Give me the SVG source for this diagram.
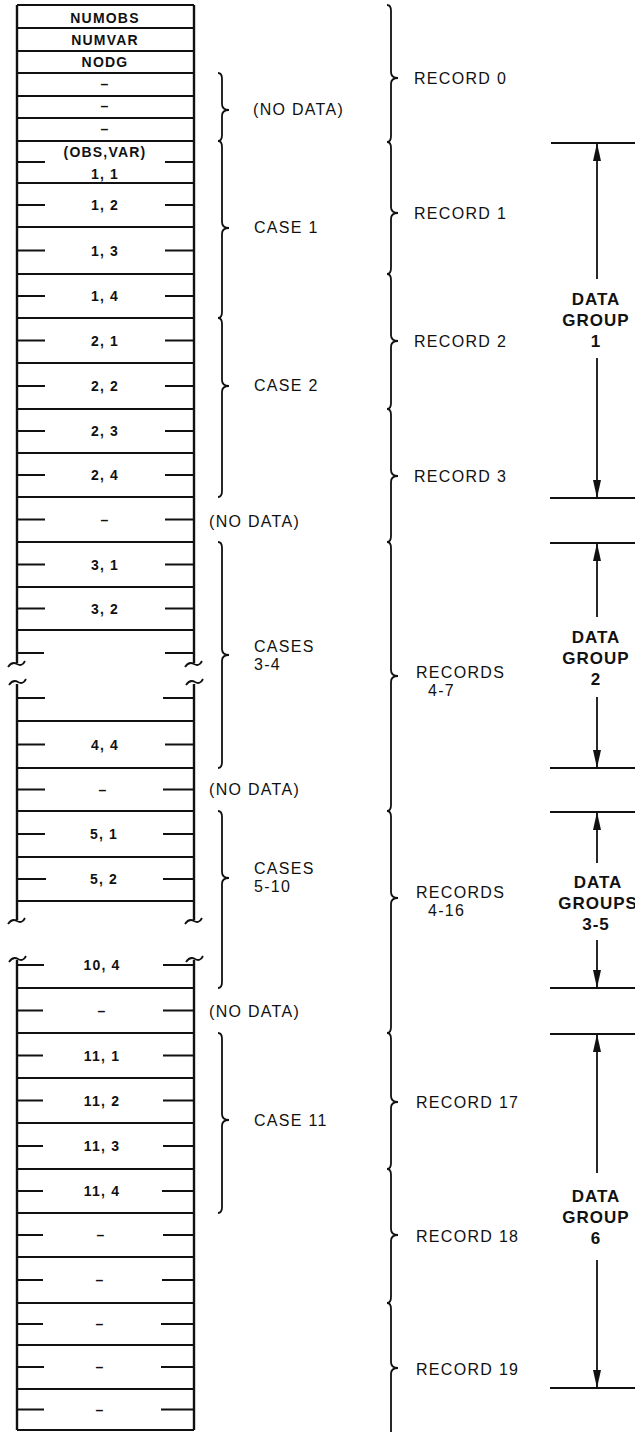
<svg xmlns="http://www.w3.org/2000/svg" width="635" height="1432" viewBox="0 0 635 1432">
<style>
.ln{stroke:#111;stroke-width:2;fill:none}
.vb{stroke:#111;stroke-width:2.4;fill:none}
.br{stroke:#111;stroke-width:1.8;fill:none}
.cv{font-family:'Liberation Sans',Arial,sans-serif;font-size:14px;font-weight:bold;letter-spacing:1.2px;text-anchor:middle;fill:#111}
.lb{font-family:'Liberation Sans',Arial,sans-serif;font-size:16px;letter-spacing:1.3px;fill:#111}
.dg{font-family:'Liberation Sans',Arial,sans-serif;font-size:17px;font-weight:bold;letter-spacing:1px;text-anchor:middle;fill:#111}
.ar{stroke:#111;stroke-width:1.8;fill:none}
</style>
<defs>
<marker id="ah" markerUnits="userSpaceOnUse" markerWidth="20" markerHeight="10" refX="18" refY="4" orient="auto"><path d="M0,0 L18,4 L0,8 z" fill="#111"/></marker>
</defs>
<rect width="635" height="1432" fill="#fff"/>
<g id="column">
<path class="vb" d="M17 5 V663 M194 5 V663 M17 684 V920 M194 684 V920 M17 960 V1430 M194 960 V1430"/>
<path class="br" d="M8 667 q4 -6 9 -3 t8 -3 M185 667 q4 -6 9 -3 t8 -3 M9 685 q4 -6 9 -3 t8 -3 M186 685 q4 -6 9 -3 t8 -3 M8 924 q4 -6 9 -3 t8 -3 M185 924 q4 -6 9 -3 t8 -3 M9 962 q4 -6 9 -3 t8 -3 M186 962 q4 -6 9 -3 t8 -3"/>
</g>
<g id="cell-numobs"><line class="ln" x1="17" y1="5" x2="194" y2="5"/><text class="cv" x="105" y="23">NUMOBS</text></g>
<g id="cell-numvar"><line class="ln" x1="17" y1="28" x2="194" y2="28"/><text class="cv" x="105" y="45">NUMVAR</text></g>
<g id="cell-nodg"><line class="ln" x1="17" y1="51" x2="194" y2="51"/><text class="cv" x="105" y="67">NODG</text></g>
<g id="cell-e1"><line class="ln" x1="17" y1="73" x2="194" y2="73"/><text class="cv" x="105" y="89">–</text></g>
<g id="cell-e2"><line class="ln" x1="17" y1="96" x2="194" y2="96"/><text class="cv" x="105" y="111">–</text></g>
<g id="cell-e3"><line class="ln" x1="17" y1="118" x2="194" y2="118"/><text class="cv" x="105" y="134">–</text></g>
<g id="cell-1-1"><line class="ln" x1="17" y1="141" x2="194" y2="141"/><path class="ln" d="M17 162 H45 M165 162 H194"/><text class="cv" x="105" y="157">(OBS,VAR)</text><text class="cv" x="105" y="179">1, 1</text></g>
<g id="cell-1-2"><line class="ln" x1="17" y1="183" x2="194" y2="183"/><path class="ln" d="M17 205 H45 M165 205 H194"/><text class="cv" x="105" y="210">1, 2</text></g>
<g id="cell-1-3"><line class="ln" x1="17" y1="227" x2="194" y2="227"/><path class="ln" d="M17 250.5 H45 M165 250.5 H194"/><text class="cv" x="105" y="255.5">1, 3</text></g>
<g id="cell-1-4"><line class="ln" x1="17" y1="274" x2="194" y2="274"/><path class="ln" d="M17 296 H45 M165 296 H194"/><text class="cv" x="105" y="301">1, 4</text></g>
<g id="cell-2-1"><line class="ln" x1="17" y1="318" x2="194" y2="318"/><path class="ln" d="M17 340.5 H45 M165 340.5 H194"/><text class="cv" x="105" y="345.5">2, 1</text></g>
<g id="cell-2-2"><line class="ln" x1="17" y1="363" x2="194" y2="363"/><path class="ln" d="M17 386 H45 M165 386 H194"/><text class="cv" x="105" y="391">2, 2</text></g>
<g id="cell-2-3"><line class="ln" x1="17" y1="409" x2="194" y2="409"/><path class="ln" d="M17 431 H45 M165 431 H194"/><text class="cv" x="105" y="436">2, 3</text></g>
<g id="cell-2-4"><line class="ln" x1="17" y1="453" x2="194" y2="453"/><path class="ln" d="M17 475 H45 M165 475 H194"/><text class="cv" x="105" y="480">2, 4</text></g>
<g id="cell-nd1"><line class="ln" x1="17" y1="497" x2="194" y2="497"/><path class="ln" d="M17 519.5 H45 M165 519.5 H194"/><text class="cv" x="105" y="524.5">–</text></g>
<g id="cell-3-1"><line class="ln" x1="17" y1="542" x2="194" y2="542"/><path class="ln" d="M17 564.5 H45 M165 564.5 H194"/><text class="cv" x="105" y="569.5">3, 1</text></g>
<g id="cell-3-2"><line class="ln" x1="17" y1="587" x2="194" y2="587"/><path class="ln" d="M17 608.5 H45 M165 608.5 H194"/><text class="cv" x="105" y="613.5">3, 2</text></g>
<g id="cell-b1"><line class="ln" x1="17" y1="630" x2="194" y2="630"/><path class="ln" d="M17 653 H44 M165 653 H194"/></g>
<g id="cell-b2"><path class="ln" d="M17 698 H45 M163 698 H194"/></g>
<g id="cell-4-4"><line class="ln" x1="17" y1="721" x2="194" y2="721"/><path class="ln" d="M17 744.5 H45 M165 744.5 H194"/><text class="cv" x="105" y="749.5">4, 4</text></g>
<g id="cell-nd2"><line class="ln" x1="17" y1="768" x2="194" y2="768"/><path class="ln" d="M17 789.5 H45 M163 789.5 H194"/><text class="cv" x="103" y="794.5">–</text></g>
<g id="cell-5-1"><line class="ln" x1="17" y1="811" x2="194" y2="811"/><path class="ln" d="M17 834 H45 M163 834 H194"/><text class="cv" x="104" y="839">5, 1</text></g>
<g id="cell-5-2"><line class="ln" x1="17" y1="857" x2="194" y2="857"/><path class="ln" d="M17 879 H46 M163 879 H194"/><text class="cv" x="104" y="884">5, 2</text></g>
<g id="cell-b3"><line class="ln" x1="17" y1="901" x2="194" y2="901"/></g>
<g id="cell-10-4"><path class="ln" d="M17 965 H44 M163 965 H194"/><text class="cv" x="102" y="970">10, 4</text></g>
<g id="cell-nd3"><line class="ln" x1="17" y1="988" x2="194" y2="988"/><path class="ln" d="M17 1010.5 H43 M163 1010.5 H194"/><text class="cv" x="102" y="1015.5">–</text></g>
<g id="cell-11-1"><line class="ln" x1="17" y1="1033" x2="194" y2="1033"/><path class="ln" d="M17 1055.5 H43 M163 1055.5 H194"/><text class="cv" x="102" y="1060.5">11, 1</text></g>
<g id="cell-11-2"><line class="ln" x1="17" y1="1078" x2="194" y2="1078"/><path class="ln" d="M17 1100.5 H43 M163 1100.5 H194"/><text class="cv" x="102" y="1105.5">11, 2</text></g>
<g id="cell-11-3"><line class="ln" x1="17" y1="1123" x2="194" y2="1123"/><path class="ln" d="M17 1146 H43 M163 1146 H194"/><text class="cv" x="102" y="1151">11, 3</text></g>
<g id="cell-11-4"><line class="ln" x1="17" y1="1169" x2="194" y2="1169"/><path class="ln" d="M17 1191 H43 M162 1191 H194"/><text class="cv" x="102" y="1196">11, 4</text></g>
<g id="cell-e4"><line class="ln" x1="17" y1="1213" x2="194" y2="1213"/><path class="ln" d="M17 1235 H43 M163 1235 H194"/><text class="cv" x="101" y="1240">–</text></g>
<g id="cell-e5"><line class="ln" x1="17" y1="1257" x2="194" y2="1257"/><path class="ln" d="M17 1280 H43 M162 1280 H194"/><text class="cv" x="100" y="1285">–</text></g>
<g id="cell-e6"><line class="ln" x1="17" y1="1303" x2="194" y2="1303"/><path class="ln" d="M17 1324 H43 M161 1324 H194"/><text class="cv" x="100" y="1329">–</text></g>
<g id="cell-e7"><line class="ln" x1="17" y1="1345" x2="194" y2="1345"/><path class="ln" d="M17 1367 H44 M161 1367 H194"/><text class="cv" x="100" y="1372">–</text></g>
<g id="cell-e8"><line class="ln" x1="17" y1="1389" x2="194" y2="1389"/><path class="ln" d="M17 1409.5 H44 M161 1409.5 H194"/><text class="cv" x="100" y="1414.5">–</text><line class="ln" x1="17" y1="1430" x2="194" y2="1430"/></g>
<g id="case-nodata0"><path class="br" d="M218 73 Q222 73 222 79 L222 104 Q222 110 229 110 Q222 110 222 116 L222 135 Q222 141 218 141"/><text class="lb" x="253" y="115">(NO DATA)</text></g>
<g id="case-1"><path class="br" d="M218 141 Q222 141 222 147 L222 222 Q222 228 229 228 Q222 228 222 234 L222 312 Q222 318 218 318"/><text class="lb" x="254" y="233">CASE 1</text></g>
<g id="case-2"><path class="br" d="M218 318 Q222 318 222 324 L222 380 Q222 386 229 386 Q222 386 222 392 L222 491 Q222 497 218 497"/><text class="lb" x="254" y="391">CASE 2</text></g>
<g id="nodata-1"><text class="lb" x="209" y="527">(NO DATA)</text></g>
<g id="case-3-4"><path class="br" d="M218 542 Q222 542 222 548 L222 649 Q222 655 229 655 Q222 655 222 661 L222 762 Q222 768 218 768"/><text class="lb" x="254" y="652">CASES</text><text class="lb" x="254" y="670">3-4</text></g>
<g id="nodata-2"><text class="lb" x="209" y="795">(NO DATA)</text></g>
<g id="case-5-10"><path class="br" d="M218 811 Q222 811 222 817 L222 872 Q222 878 229 878 Q222 878 222 884 L222 982 Q222 988 218 988"/><text class="lb" x="254" y="874">CASES</text><text class="lb" x="254" y="892">5-10</text></g>
<g id="nodata-3"><text class="lb" x="209" y="1017">(NO DATA)</text></g>
<g id="case-11"><path class="br" d="M218 1033 Q222 1033 222 1039 L222 1114 Q222 1120 229 1120 Q222 1120 222 1126 L222 1207 Q222 1213 218 1213"/><text class="lb" x="254" y="1126">CASE 11</text></g>
<g id="rec-0"><path class="br" d="M387 5 Q391 5 391 11 L391 72 Q391 78 398 78 Q391 78 391 84 L391 136 Q391 142 387 142"/><text class="lb" x="414" y="84">RECORD 0</text></g>
<g id="rec-1"><path class="br" d="M387 142 Q391 142 391 148 L391 207 Q391 213 398 213 Q391 213 391 219 L391 268 Q391 274 387 274"/><text class="lb" x="414" y="219">RECORD 1</text></g>
<g id="rec-2"><path class="br" d="M387 274 Q391 274 391 280 L391 335 Q391 341 398 341 Q391 341 391 347 L391 403 Q391 409 387 409"/><text class="lb" x="414" y="347">RECORD 2</text></g>
<g id="rec-3"><path class="br" d="M387 409 Q391 409 391 415 L391 470 Q391 476 398 476 Q391 476 391 482 L391 536 Q391 542 387 542"/><text class="lb" x="414" y="482">RECORD 3</text></g>
<g id="rec-4-7"><path class="br" d="M387 542 Q391 542 391 548 L391 670 Q391 676 398 676 Q391 676 391 682 L391 805 Q391 811 387 811"/><text class="lb" x="416" y="678">RECORDS</text><text class="lb" x="428" y="696">4-7</text></g>
<g id="rec-4-16"><path class="br" d="M387 811 Q391 811 391 817 L391 892 Q391 898 398 898 Q391 898 391 904 L391 1027 Q391 1033 387 1033"/><text class="lb" x="416" y="898">RECORDS</text><text class="lb" x="428" y="916">4-16</text></g>
<g id="rec-17"><path class="br" d="M387 1033 Q391 1033 391 1039 L391 1096 Q391 1102 398 1102 Q391 1102 391 1108 L391 1163 Q391 1169 387 1169"/><text class="lb" x="416" y="1108">RECORD 17</text></g>
<g id="rec-18"><path class="br" d="M387 1169 Q391 1169 391 1175 L391 1229 Q391 1235 398 1235 Q391 1235 391 1241 L391 1297 Q391 1303 387 1303"/><text class="lb" x="416" y="1242">RECORD 18</text></g>
<g id="rec-19"><path class="br" d="M387 1303 Q391 1303 391 1309 L391 1362 Q391 1368 398 1368 Q391 1368 391 1374 L391 1432"/><text class="lb" x="416" y="1375">RECORD 19</text></g>
<g id="dg-lines">
<path class="ln" d="M551 143 H635 M550 498 H635 M550 543 H635 M550 768 H635 M550 812 H635 M550 988 H635 M550 1034 H635 M550 1388 H635"/>
</g>
<g id="dg-1"><text class="dg" x="596" y="305">DATA</text><text class="dg" x="596" y="326">GROUP</text><text class="dg" x="596" y="347">1</text></g>
<g id="dg-2"><text class="dg" x="596" y="643">DATA</text><text class="dg" x="596" y="664">GROUP</text><text class="dg" x="596" y="685">2</text></g>
<g id="dg-3-5"><text class="dg" x="598" y="888">DATA</text><text class="dg" x="598" y="909">GROUPS</text><text class="dg" x="596" y="930">3-5</text></g>
<g id="dg-6"><text class="dg" x="596" y="1202">DATA</text><text class="dg" x="596" y="1223">GROUP</text><text class="dg" x="596" y="1244">6</text></g>
<g id="connectors">
<path class="ar" marker-end="url(#ah)" d="M597 279 V143"/>
<path class="ar" marker-end="url(#ah)" d="M597 358 V498"/>
<path class="ar" marker-end="url(#ah)" d="M597 617 V543"/>
<path class="ar" marker-end="url(#ah)" d="M597 697 V768"/>
<path class="ar" marker-end="url(#ah)" d="M597 863 V812"/>
<path class="ar" marker-end="url(#ah)" d="M597 940 V988"/>
<path class="ar" marker-end="url(#ah)" d="M597 1173 V1034"/>
<path class="ar" marker-end="url(#ah)" d="M597 1260 V1388"/>
</g>
</svg>
